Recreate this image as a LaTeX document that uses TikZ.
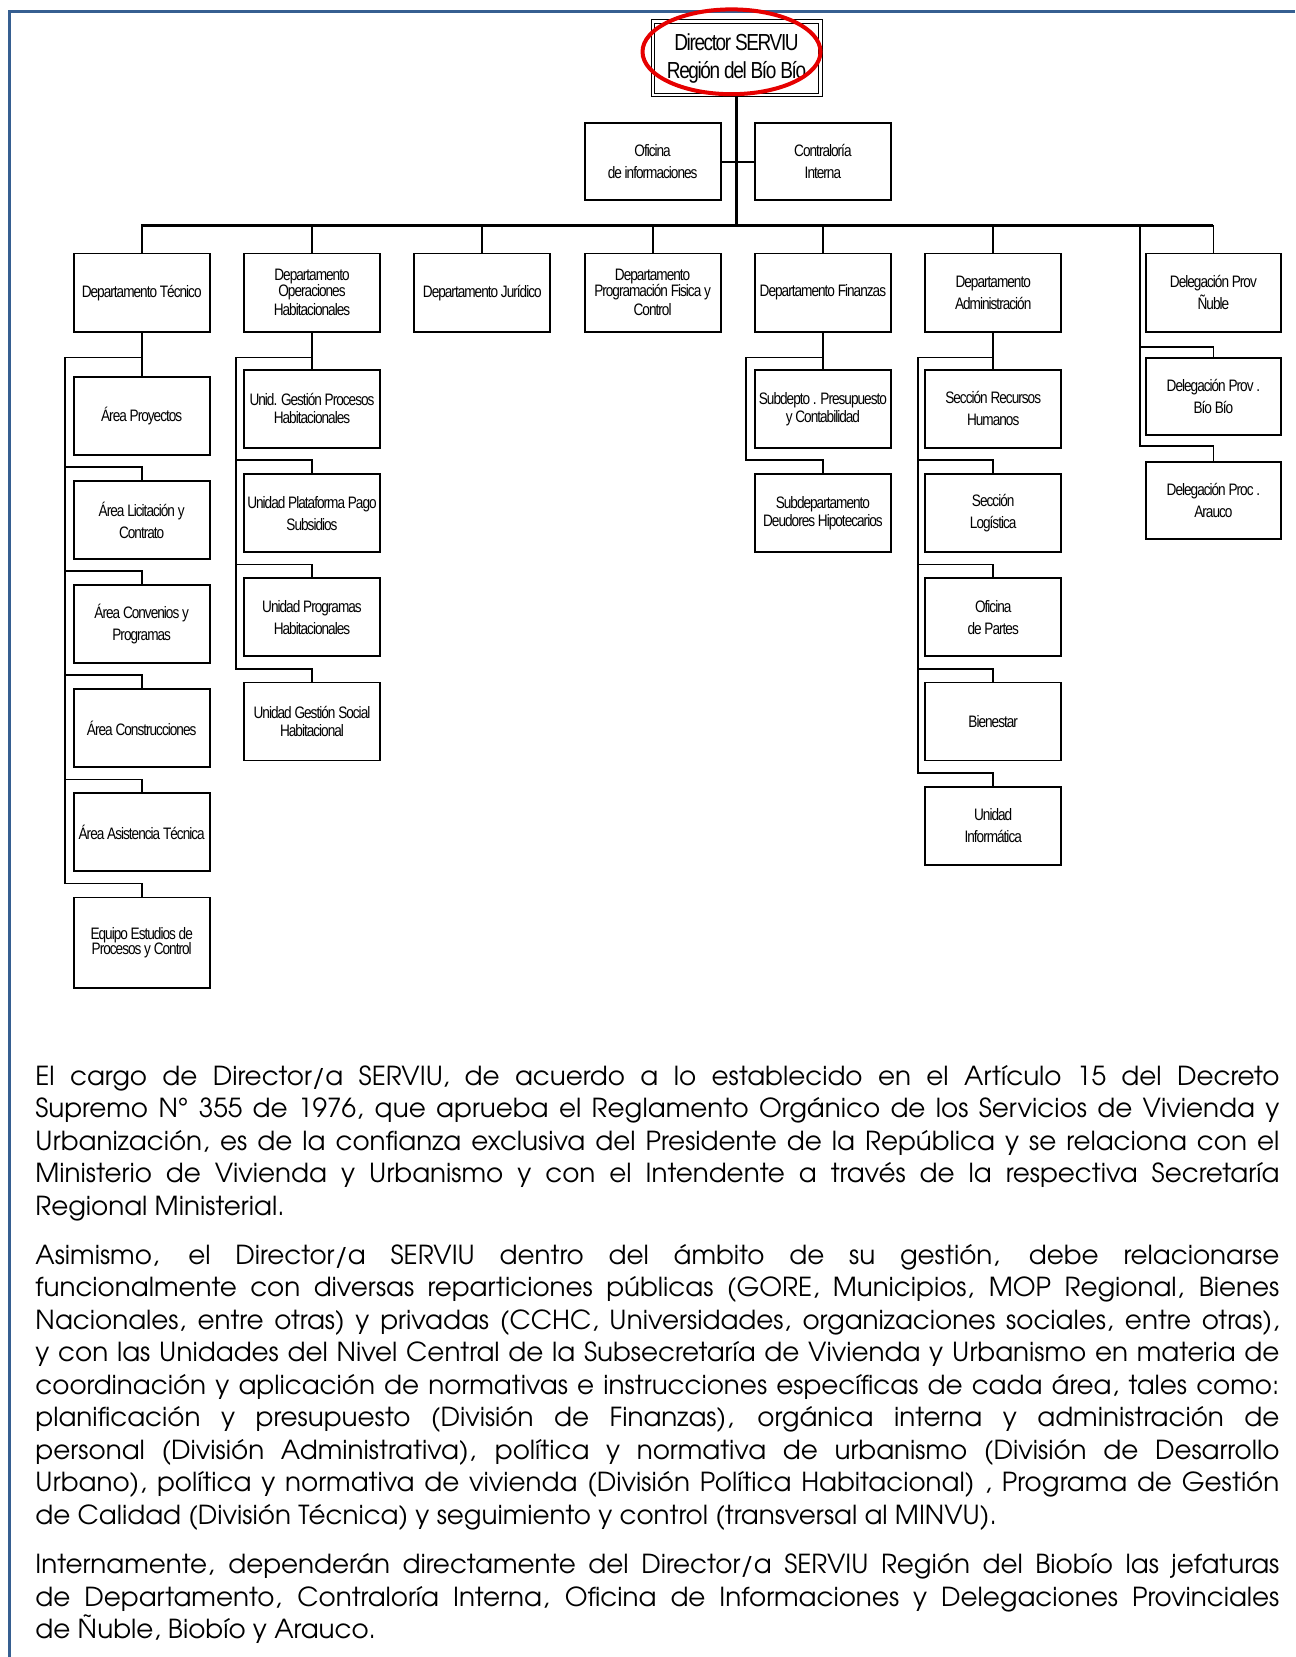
\documentclass[tikz,border=0pt]{standalone}
\usepackage{fontspec}
\setmainfont{Liberation Sans}
\newfontfamily\boxfont{Liberation Sans}[FakeStretch=0.82,LetterSpace=-6]
\newfontfamily\bodyfont{texgyreadventor-regular.otf}
\definecolor{frameblue}{RGB}{54,95,145}
\definecolor{ovalred}{RGB}{230,0,0}
\tikzset{
  box/.style={draw, line width=0.9pt, anchor=north west, minimum width=68pt,
    minimum height=39pt, inner sep=0pt, align=center,
    font=\boxfont\fontsize{8.3}{11}\selectfont},
  conn/.style={line width=0.9pt},
  trunkline/.style={line width=1.5pt},
  bodyline/.style={anchor=base west, inner sep=0pt,
    font=\bodyfont\fontsize{13.1}{16}\selectfont}
}
\newcommand\jline[1]{\makebox[622pt][s]{#1}}
\begin{document}
\begin{tikzpicture}[x=0.5pt,y=-0.5pt]
\useasboundingbox (0,0) rectangle (1295,1657);
\fill[white] (0,0) rectangle (1295,1657);
% frame
\draw[frameblue, line width=1.6pt] (9.5,1657) -- (9.5,11.5) -- (1295,11.5);

% director
\node[box, minimum width=83.8pt, minimum height=36.8pt, double, line width=0.5pt,
  double distance=1.2pt, font=\boxfont\fontsize{11.6}{14}\selectfont] (dir) at (652.2,21.2)
  {Director SERVIU\\Región del Bío Bío};
\draw[ovalred, line width=2pt] (731.5,51.8) ellipse [x radius=44.5pt, y radius=21.2pt];

\node[box, minimum height=38.5pt] (ofi) at (583.7,122.5) {Oficina\\de informaciones};
\node[box, minimum height=38.5pt] (con) at (754,122.5) {Contraloría\\Interna};

% level 1
\node[box, minimum height=39.2pt] (tec) at (72.8,252.6) {Departamento Técnico};
\node[box, minimum height=39.2pt] (ope) at (243.1,252.6) {Departamento\\[-3pt]Operaciones\\[-1.5pt]Habitacionales};
\node[box, minimum height=39.2pt] (jur) at (413.4,252.6) {Departamento Jurídico};
\node[box, minimum height=39.2pt] (pro) at (583.7,252.6) {Departamento\\[-3pt]Programación Fisica y\\[-1.5pt]Control};
\node[box, minimum height=39.2pt] (fin) at (754,252.6) {Departamento Finanzas};
\node[box, minimum height=39.2pt] (adm) at (924.3,252.6) {Departamento\\Administración};
\node[box, minimum height=39.2pt, minimum width=67.5pt] (nub) at (1145,252.6) {Delegación Prov\\Ñuble};

% Tecnico children
\node[box] (t1) at (72.8,376) {Área Proyectos};
\node[box] (t2) at (72.8,480.1) {Área Licitación y\\Contrato};
\node[box] (t3) at (72.8,584.2) {Área Convenios y\\Programas};
\node[box] (t4) at (72.8,688.3) {Área Construcciones};
\node[box] (t5) at (72.8,792.4) {Área Asistencia Técnica};
\node[box, minimum height=45.25pt] (t6) at (72.8,896.5) {Equipo Estudios de\\[-3.5pt]Procesos y Control};

% Operaciones children
\node[box] (o1) at (243.1,369) {Unid. Gestión Procesos\\[-2pt]Habitacionales};
\node[box] (o2) at (243.1,473.2) {Unidad Plataforma Pago\\Subsidios};
\node[box] (o3) at (243.1,577.4) {Unidad Programas\\Habitacionales};
\node[box] (o4) at (243.1,681.6) {Unidad Gestión Social\\[-2pt]Habitacional};

% Finanzas children
\node[box] (f1) at (754,369) {Subdepto . Presupuesto\\[-2pt]y Contabilidad};
\node[box] (f2) at (754,473.2) {Subdepartamento\\[-2pt]Deudores Hipotecarios};

% Administracion children
\node[box] (a1) at (924.3,369) {Sección Recursos\\Humanos};
\node[box] (a2) at (924.3,473.2) {Sección\\Logística};
\node[box] (a3) at (924.3,577.4) {Oficina\\de Partes};
\node[box] (a4) at (924.3,681.6) {Bienestar};
\node[box] (a5) at (924.3,785.8) {Unidad\\Informática};

% Delegaciones
\node[box, minimum width=67.5pt, minimum height=38.7pt] (bb) at (1145,357) {Delegación Prov .\\Bío Bío};
\node[box, minimum width=67.5pt, minimum height=38.5pt] (ara) at (1145,461) {Delegación Proc .\\Arauco};

% connectors
\coordinate (busL) at (140.8,225.5);
\coordinate (busR) at (1212.8,225.5);
\draw[trunkline] (dir.south) -- (dir.south |- busL);
\draw[trunkline] (busL) -- (busR);
\draw[conn] (ofi.east) -- (con.west);
\foreach \n in {tec,ope,jur,pro,fin,adm,nub} \draw[conn] (\n.north) -- (\n.north |- busL);

\coordinate (tecb) at (65,357.5);
\coordinate (opeb) at (236,357.5);
\coordinate (finb) at (746,357.5);
\coordinate (admb) at (918,357.5);
\coordinate (delb) at (1140,225.5);

\draw[conn] (tec.south) -- (t1.north);
\draw[conn] (tec.south |- tecb) -- (tecb);
\foreach \c in {t2,t3,t4,t5,t6} \draw[conn] (\c.north) -- ++(0,-13) -| (tecb);

\draw[conn] (ope.south) -- (o1.north);
\draw[conn] (ope.south |- opeb) -- (opeb);
\foreach \c in {o2,o3,o4} \draw[conn] (\c.north) -- ++(0,-13) -| (opeb);

\draw[conn] (fin.south) -- (f1.north);
\draw[conn] (fin.south |- finb) -- (finb);
\draw[conn] (f2.north) -- ++(0,-13) -| (finb);

\draw[conn] (adm.south) -- (a1.north);
\draw[conn] (adm.south |- admb) -- (admb);
\foreach \c in {a2,a3,a4,a5} \draw[conn] (\c.north) -- ++(0,-13) -| (admb);

\draw[conn] (bb.north) -- ++(0,-10.3) -| (delb);
\draw[conn] (ara.north) -- ++(0,-15) -| (delb);

% body text
\node[bodyline] (p1a) at (35,1085.2) {\jline{El cargo de Director/a SERVIU, de acuerdo a lo establecido en el Artículo 15 del Decreto}};
\node[bodyline] (p1b) at (35,1117.7) {\jline{Supremo N° 355 de 1976, que aprueba el Reglamento Orgánico de los Servicios de Vivienda y}};
\node[bodyline] (p1c) at (35,1150.2) {\jline{Urbanización, es de la confianza exclusiva del Presidente de la República y se relaciona con el}};
\node[bodyline] (p1d) at (35,1182.7) {\jline{Ministerio de Vivienda y Urbanismo y con el Intendente a través de la respectiva Secretaría}};
\node[bodyline] (p1e) at (35,1215.2) {Regional Ministerial.};

\node[bodyline] (p2a) at (35,1264) {\jline{Asimismo, el Director/a SERVIU dentro del ámbito de su gestión, debe relacionarse}};
\node[bodyline] (p2b) at (35,1296.5) {\jline{funcionalmente con diversas reparticiones públicas (GORE, Municipios, MOP Regional, Bienes}};
\node[bodyline] (p2c) at (35,1329) {\jline{Nacionales, entre otras) y privadas (CCHC, Universidades, organizaciones sociales, entre otras),}};
\node[bodyline] (p2d) at (35,1361.5) {\jline{y con las Unidades del Nivel Central de la Subsecretaría de Vivienda y Urbanismo en materia de}};
\node[bodyline] (p2e) at (35,1394) {\jline{coordinación y aplicación de normativas e instrucciones específicas de cada área, tales como:}};
\node[bodyline] (p2f) at (35,1426.5) {\jline{planificación y presupuesto (División de Finanzas), orgánica interna y administración de}};
\node[bodyline] (p2g) at (35,1459) {\jline{personal (División Administrativa), política y normativa de urbanismo (División de Desarrollo}};
\node[bodyline] (p2h) at (35,1491.5) {\jline{Urbano), política y normativa de vivienda (División Política Habitacional) , Programa de Gestión}};
\node[bodyline] (p2i) at (35,1524) {de Calidad (División Técnica) y seguimiento y control (transversal al MINVU).};

\node[bodyline] (p3a) at (35,1573.6) {\jline{Internamente, dependerán directamente del Director/a SERVIU Región del Biobío las jefaturas}};
\node[bodyline] (p3b) at (35,1606.1) {\jline{de Departamento, Contraloría Interna, Oficina de Informaciones y Delegaciones Provinciales}};
\node[bodyline] (p3c) at (35,1638.6) {de Ñuble, Biobío y Arauco.};
\end{tikzpicture}
\end{document}
